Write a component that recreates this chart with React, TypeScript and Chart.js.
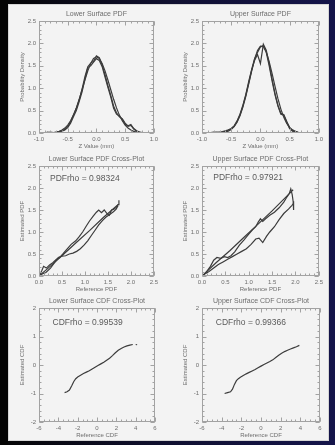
import React, { useEffect, useRef } from "react";
import { Chart, registerables } from "chart.js";
Chart.register(...registerables);

// ---------------- data ----------------
const zValues = [-1.0, -0.95, -0.9, -0.85, -0.8, -0.75, -0.7, -0.65, -0.6, -0.55, -0.5, -0.45, -0.4, -0.35, -0.3, -0.25, -0.2, -0.15, -0.1, -0.05, 0.0, 0.05, 0.1, 0.15, 0.2, 0.25, 0.3, 0.35, 0.4, 0.45, 0.5, 0.55, 0.6, 0.65, 0.7, 0.75, 0.8, 0.85, 0.9, 0.95, 1.0];

const lowerRefPdf = [0, 0, 0, 0, 0.005, 0.01, 0.02, 0.037, 0.065, 0.11, 0.177, 0.272, 0.399, 0.56, 0.752, 0.965, 1.183, 1.387, 1.553, 1.662, 1.7, 1.662, 1.553, 1.387, 1.183, 0.965, 0.752, 0.56, 0.399, 0.272, 0.177, 0.11, 0.065, 0.037, 0.02, 0.01, 0.005, 0, 0, 0, 0];
const lowerEstPdfA = [0.0, 0.01, 0.0, 0.02, 0.01, 0.0, 0.02, 0.03, 0.04, 0.07, 0.12, 0.22, 0.36, 0.5, 0.7, 0.92, 1.2, 1.46, 1.5, 1.58, 1.66, 1.62, 1.48, 1.25, 1.02, 0.8, 0.55, 0.42, 0.38, 0.3, 0.2, 0.15, 0.17, 0.09, 0.04, 0.02, 0.01, 0.0, 0.01, 0.0, 0.0];
const lowerEstPdfB = [0.0, 0.0, 0.01, 0.0, 0.02, 0.01, 0.01, 0.02, 0.05, 0.08, 0.14, 0.25, 0.4, 0.55, 0.74, 0.98, 1.26, 1.48, 1.56, 1.6, 1.72, 1.68, 1.52, 1.3, 1.06, 0.84, 0.6, 0.45, 0.36, 0.32, 0.22, 0.16, 0.19, 0.1, 0.05, 0.02, 0.0, 0.01, 0.0, 0.0, 0.0];

const upperRefPdf = [0, 0, 0, 0, 0, 0.002, 0.005, 0.01, 0.02, 0.041, 0.078, 0.141, 0.239, 0.383, 0.577, 0.819, 1.096, 1.383, 1.643, 1.84, 1.941, 1.929, 1.807, 1.595, 1.326, 1.039, 0.767, 0.534, 0.35, 0.216, 0.126, 0.069, 0.036, 0.017, 0.008, 0.003, 0, 0, 0, 0, 0];
const upperEstPdfA = [0, 0.01, 0, 0.01, 0.02, 0.01, 0.02, 0.03, 0.05, 0.07, 0.1, 0.16, 0.27, 0.42, 0.62, 0.86, 1.15, 1.42, 1.66, 1.8, 1.92, 1.95, 1.8, 1.5, 1.16, 0.85, 0.6, 0.42, 0.4, 0.24, 0.1, 0.04, 0.02, 0.01, 0.01, 0, 0, 0, 0, 0, 0];
const upperEstPdfB = [0, 0, 0.01, 0, 0.01, 0.02, 0.01, 0.02, 0.04, 0.06, 0.09, 0.15, 0.25, 0.4, 0.6, 0.84, 1.12, 1.4, 1.62, 1.75, 1.55, 1.98, 1.85, 1.55, 1.2, 0.88, 0.62, 0.44, 0.41, 0.26, 0.12, 0.05, 0.02, 0.01, 0, 0.01, 0, 0, 0, 0, 0];

// PDF cross-plots
const lowerCrossFitX = [0, 0.2, 0.5, 0.8, 1.1, 1.4, 1.72];
const lowerCrossFitY = [0, 0.18, 0.46, 0.75, 1.03, 1.33, 1.62];
const lowerCrossLeftX = [0, 0.06, 0.1, 0.16, 0.23, 0.3, 0.38, 0.45, 0.52, 0.6, 0.7, 0.8, 0.88, 0.95, 1.02, 1.1, 1.18, 1.25, 1.3, 1.36, 1.42, 1.48, 1.53, 1.58, 1.63, 1.68, 1.72, 1.74];
const lowerCrossLeftY = [0, 0.12, 0.22, 0.18, 0.25, 0.3, 0.38, 0.42, 0.5, 0.6, 0.72, 0.8, 0.9, 1.0, 1.12, 1.25, 1.36, 1.45, 1.5, 1.44, 1.5, 1.42, 1.38, 1.5, 1.52, 1.56, 1.62, 1.72];
const lowerCrossRightX = [0, 0.08, 0.15, 0.25, 0.35, 0.42, 0.5, 0.58, 0.66, 0.74, 0.82, 0.9, 0.98, 1.06, 1.14, 1.22, 1.3, 1.38, 1.46, 1.54, 1.62, 1.68, 1.72];
const lowerCrossRightY = [0, 0.05, 0.08, 0.18, 0.32, 0.42, 0.45, 0.46, 0.5, 0.52, 0.56, 0.62, 0.7, 0.8, 0.92, 1.04, 1.16, 1.26, 1.34, 1.4, 1.46, 1.52, 1.6];

const upperCrossFitX = [0, 0.3, 0.6, 0.9, 1.2, 1.5, 1.8, 1.95];
const upperCrossFitY = [0, 0.3, 0.58, 0.88, 1.18, 1.48, 1.8, 1.96];
const upperCrossLeftX = [0, 0.05, 0.1, 0.18, 0.25, 0.32, 0.4, 0.48, 0.55, 0.62, 0.7, 0.8, 0.9, 1.0, 1.08, 1.15, 1.2, 1.25, 1.3, 1.36, 1.45, 1.55, 1.65, 1.75, 1.82, 1.87, 1.9, 1.93, 1.95, 1.96];
const upperCrossLeftY = [0, 0.04, 0.1, 0.22, 0.36, 0.42, 0.4, 0.44, 0.42, 0.46, 0.55, 0.7, 0.82, 0.95, 1.05, 1.12, 1.22, 1.3, 1.24, 1.3, 1.38, 1.45, 1.55, 1.68, 1.8, 1.88, 1.98, 1.85, 1.7, 1.5];
const upperCrossRightX = [0, 0.08, 0.15, 0.25, 0.35, 0.45, 0.55, 0.65, 0.75, 0.85, 0.95, 1.05, 1.15, 1.22, 1.3, 1.38, 1.45, 1.55, 1.65, 1.75, 1.85, 1.92, 1.96];
const upperCrossRightY = [0, 0.06, 0.1, 0.18, 0.26, 0.32, 0.38, 0.44, 0.5, 0.56, 0.62, 0.72, 0.84, 0.86, 0.76, 0.9, 1.0, 1.12, 1.28, 1.42, 1.52, 1.6, 1.65];

// CDF cross-plots
const lowerCdfRefX = [-3.35, -3.1, -2.85, -2.6, -2.4, -2.2, -2.0, -1.7, -1.4, -1.1, -0.8, -0.5, -0.2, 0.1, 0.4, 0.7, 1.0, 1.3, 1.6, 1.9, 2.2, 2.5, 2.8, 3.1, 3.4, 3.7];
const lowerCdfEstY = [-0.97, -0.94, -0.88, -0.72, -0.58, -0.48, -0.42, -0.36, -0.3, -0.25, -0.2, -0.14, -0.08, -0.02, 0.04, 0.1, 0.17, 0.24, 0.33, 0.43, 0.52, 0.58, 0.63, 0.67, 0.7, 0.72];
const lowerCdfTailX = [4.0, 4.15];
const lowerCdfTailY = [0.72, 0.71];
const upperCdfRefX = [-3.7, -3.4, -3.1, -2.9, -2.7, -2.5, -2.3, -2.1, -1.8, -1.5, -1.2, -0.9, -0.6, -0.3, 0, 0.3, 0.6, 0.9, 1.2, 1.5, 1.8, 2.1, 2.4, 2.7, 3.0, 3.3, 3.6, 3.9];
const upperCdfEstY = [-1.0, -0.97, -0.94, -0.85, -0.68, -0.55, -0.48, -0.43, -0.37, -0.31, -0.26, -0.21, -0.16, -0.1, -0.04, 0.02, 0.07, 0.12, 0.18, 0.26, 0.34, 0.41, 0.47, 0.52, 0.56, 0.6, 0.64, 0.69];

// ticks
const zTicks = [-1.0, -0.5, 0.0, 0.5, 1.0];
const zTickLabels = ["-1.0", "-0.5", "0.0", "0.5", "1.0"];
const densityTicks = [0, 0.5, 1.0, 1.5, 2.0, 2.5];
const densityTickLabels = ["0.0", "0.5", "1.0", "1.5", "2.0", "2.5"];
const cdfXTicks = [-6, -4, -2, 0, 2, 4, 6];
const cdfXTickLabels = ["-6", "-4", "-2", "0", "2", "4", "6"];
const cdfYTicks = [-2, -1, 0, 1, 2];
const cdfYTickLabels = ["-2", "-1", "0", "1", "2"];

const lowerPdfRho = "PDFrho = 0.98324";
const upperPdfRho = "PDFrho = 0.97921";
const lowerCdfRho = "CDFrho = 0.99539";
const upperCdfRho = "CDFrho = 0.99366";

// ---------------- rendering ----------------
type Series = { x: number[]; y: number[] };
type PanelCfg = {
  box: [number, number, number, number];
  title: string;
  xTitle: string;
  yTitle: string;
  xTicks: number[];
  xLabels: string[];
  yTicks: number[];
  yLabels: string[];
  xMinor: number;
  yMinor: number;
  series: Series[];
  note?: { text: string; x: number; y: number };
};

const FONT = '"Liberation Sans", Arial, sans-serif';
const LINE = "#3c3c3c";
const TEXT = "#6d6d6d";

function boxPlugin(cfg: PanelCfg) {
  return {
    id: "idlbox",
    afterDatasetsDraw(chart: any) {
      const { ctx, chartArea: a, scales } = chart;
      const xs = scales.x;
      const ys = scales.y;
      ctx.save();
      ctx.strokeStyle = "#a2a2a2";
      ctx.lineWidth = 1;
      const l = Math.round(a.left) + 0.5;
      const r = Math.round(a.right) - 0.5;
      const t = Math.round(a.top) + 0.5;
      const b = Math.round(a.bottom) - 0.5;
      ctx.strokeRect(l, t, r - l, b - t);
      const seg = (x1: number, y1: number, x2: number, y2: number) => {
        ctx.beginPath();
        ctx.moveTo(x1, y1);
        ctx.lineTo(x2, y2);
        ctx.stroke();
      };
      const tickX = (v: number, len: number) => {
        const p = Math.round(xs.getPixelForValue(v)) + 0.5;
        seg(p, b, p, b - len);
        seg(p, t, p, t + len);
      };
      const tickY = (v: number, len: number) => {
        const p = Math.round(ys.getPixelForValue(v)) + 0.5;
        seg(l, p, l + len, p);
        seg(r, p, r - len, p);
      };
      const x0 = cfg.xTicks[0], x1 = cfg.xTicks[cfg.xTicks.length - 1];
      const y0 = cfg.yTicks[0], y1 = cfg.yTicks[cfg.yTicks.length - 1];
      const nx = Math.round((x1 - x0) / cfg.xMinor);
      for (let i = 0; i <= nx; i++) tickX(x0 + i * cfg.xMinor, 2);
      const ny = Math.round((y1 - y0) / cfg.yMinor);
      for (let i = 0; i <= ny; i++) tickY(y0 + i * cfg.yMinor, 2);
      cfg.xTicks.forEach((v) => tickX(v, 4));
      cfg.yTicks.forEach((v) => tickY(v, 4));

      ctx.fillStyle = TEXT;
      ctx.textAlign = "center";
      ctx.textBaseline = "middle";
      ctx.font = `7px ${FONT}`;
      ctx.fillText(cfg.title, (a.left + a.right) / 2, a.top - 6.5);
      if (cfg.note) {
        ctx.textAlign = "left";
        ctx.font = `8.5px ${FONT}`;
        ctx.fillStyle = "#5a5a5a";
        ctx.fillText(cfg.note.text, xs.getPixelForValue(cfg.note.x), ys.getPixelForValue(cfg.note.y));
      }
      ctx.restore();
    },
  };
}

function Panel({ cfg }: { cfg: PanelCfg }) {
  const ref = useRef<HTMLCanvasElement>(null);
  const [bx0, by0, bx1, by1] = cfg.box;
  const L = bx0 - 30;
  const T = by0 - 16;
  const W = bx1 - L + 6;
  const H = by1 - T + 22;
  useEffect(() => {
    const datasets = cfg.series.map((s) => ({
      data: s.x.map((xv, i) => ({ x: xv, y: s.y[i] })),
      showLine: true,
      pointRadius: 0,
      borderColor: LINE,
      borderWidth: 1.2,
      tension: 0,
      fill: false,
    }));
    const tickFont = { family: FONT, size: 6 };
    const chart = new Chart(ref.current as HTMLCanvasElement, {
      type: "scatter",
      data: { datasets },
      options: {
        animation: false,
        responsive: false,
        events: [],
        layout: { padding: { top: 16, right: 6, left: 0, bottom: 0 } },
        plugins: {
          legend: { display: false },
          tooltip: { enabled: false },
          title: { display: false },
        },
        scales: {
          x: {
            type: "linear",
            min: cfg.xTicks[0],
            max: cfg.xTicks[cfg.xTicks.length - 1],
            afterBuildTicks: (s: any) => {
              s.ticks = cfg.xTicks.map((v) => ({ value: v }));
            },
            afterFit: (s: any) => {
              s.height = 22;
            },
            grid: { display: false, drawTicks: false, tickLength: 0 },
            border: { display: false },
            ticks: {
              callback: (_v: any, i: number) => cfg.xLabels[i],
              font: tickFont,
              color: TEXT,
              padding: 3,
              maxRotation: 0,
              autoSkip: false,
            },
            title: {
              display: true,
              text: cfg.xTitle,
              font: tickFont,
              color: TEXT,
              padding: { top: 0, bottom: 5 },
            },
          },
          y: {
            type: "linear",
            min: cfg.yTicks[0],
            max: cfg.yTicks[cfg.yTicks.length - 1],
            afterBuildTicks: (s: any) => {
              s.ticks = cfg.yTicks.map((v) => ({ value: v }));
            },
            afterFit: (s: any) => {
              s.width = 30;
            },
            grid: { display: false, drawTicks: false, tickLength: 0 },
            border: { display: false },
            ticks: {
              callback: (_v: any, i: number) => cfg.yLabels[i],
              font: tickFont,
              color: TEXT,
              padding: 3,
              autoSkip: false,
            },
            title: {
              display: true,
              text: cfg.yTitle,
              font: tickFont,
              color: TEXT,
              padding: { top: 10, bottom: 0 },
            },
          },
        },
      } as any,
      plugins: [boxPlugin(cfg)],
    });
    return () => chart.destroy();
  }, []);
  return (
    <canvas
      ref={ref}
      width={W}
      height={H}
      style={{ position: "absolute", left: L, top: T, width: W, height: H }}
    />
  );
}

const panels: PanelCfg[] = [
  {
    box: [39, 21, 155, 133],
    title: "Lower Surface PDF",
    xTitle: "Z Value (mm)",
    yTitle: "Probability Density",
    xTicks: zTicks, xLabels: zTickLabels, yTicks: densityTicks, yLabels: densityTickLabels,
    xMinor: 0.1, yMinor: 0.1,
    series: [
      { x: zValues, y: lowerRefPdf },
      { x: zValues, y: lowerEstPdfA },
      { x: zValues, y: lowerEstPdfB },
    ],
  },
  {
    box: [202, 21, 320, 133],
    title: "Upper Surface PDF",
    xTitle: "Z Value (mm)",
    yTitle: "Probability Density",
    xTicks: zTicks, xLabels: zTickLabels, yTicks: densityTicks, yLabels: densityTickLabels,
    xMinor: 0.1, yMinor: 0.1,
    series: [
      { x: zValues, y: upperRefPdf },
      { x: zValues, y: upperEstPdfA },
      { x: zValues, y: upperEstPdfB },
    ],
  },
  {
    box: [39, 166, 155, 276],
    title: "Lower Surface PDF Cross-Plot",
    xTitle: "Reference PDF",
    yTitle: "Estimated PDF",
    xTicks: densityTicks, xLabels: densityTickLabels, yTicks: densityTicks, yLabels: densityTickLabels,
    xMinor: 0.1, yMinor: 0.1,
    series: [
      { x: lowerCrossFitX, y: lowerCrossFitY },
      { x: lowerCrossLeftX, y: lowerCrossLeftY },
      { x: lowerCrossRightX, y: lowerCrossRightY },
    ],
    note: { text: lowerPdfRho, x: 0.24, y: 2.22 },
  },
  {
    box: [202, 166, 320, 276],
    title: "Upper Surface PDF Cross-Plot",
    xTitle: "Reference PDF",
    yTitle: "Estimated PDF",
    xTicks: densityTicks, xLabels: densityTickLabels, yTicks: densityTicks, yLabels: densityTickLabels,
    xMinor: 0.1, yMinor: 0.1,
    series: [
      { x: upperCrossFitX, y: upperCrossFitY },
      { x: upperCrossLeftX, y: upperCrossLeftY },
      { x: upperCrossRightX, y: upperCrossRightY },
    ],
    note: { text: upperPdfRho, x: 0.24, y: 2.24 },
  },
  {
    box: [39, 308, 155, 422],
    title: "Lower Surface CDF Cross-Plot",
    xTitle: "Reference CDF",
    yTitle: "Estimated CDF",
    xTicks: cdfXTicks, xLabels: cdfXTickLabels, yTicks: cdfYTicks, yLabels: cdfYTickLabels,
    xMinor: 0.5, yMinor: 0.2,
    series: [
      { x: lowerCdfRefX, y: lowerCdfEstY },
      { x: lowerCdfTailX, y: lowerCdfTailY },
    ],
    note: { text: lowerCdfRho, x: -4.6, y: 1.5 },
  },
  {
    box: [202, 308, 320, 422],
    title: "Upper Surface CDF Cross-Plot",
    xTitle: "Reference CDF",
    yTitle: "Estimated CDF",
    xTicks: cdfXTicks, xLabels: cdfXTickLabels, yTicks: cdfYTicks, yLabels: cdfYTickLabels,
    xMinor: 0.5, yMinor: 0.2,
    series: [{ x: upperCdfRefX, y: upperCdfEstY }],
    note: { text: upperCdfRho, x: -4.6, y: 1.5 },
  },
];

export default function App() {
  return (
    <div
      style={{
        position: "fixed",
        left: 0,
        top: 0,
        width: 335,
        height: 445,
        overflow: "hidden",
        background: "linear-gradient(90deg, #050505 0%, #101030 50%, #14144a 100%)",
      }}
    >
      <div style={{ position: "absolute", left: 0, top: 0, width: 8, height: 445, background: "#040404" }} />
      <div
        style={{
          position: "absolute",
          left: 8,
          top: 4,
          width: 321,
          height: 437,
          background: "#f3f3f3",
          boxSizing: "border-box",
          border: "1px solid #d6d6d6",
        }}
      />
      {panels.map((p, i) => (
        <Panel key={i} cfg={p} />
      ))}
    </div>
  );
}
